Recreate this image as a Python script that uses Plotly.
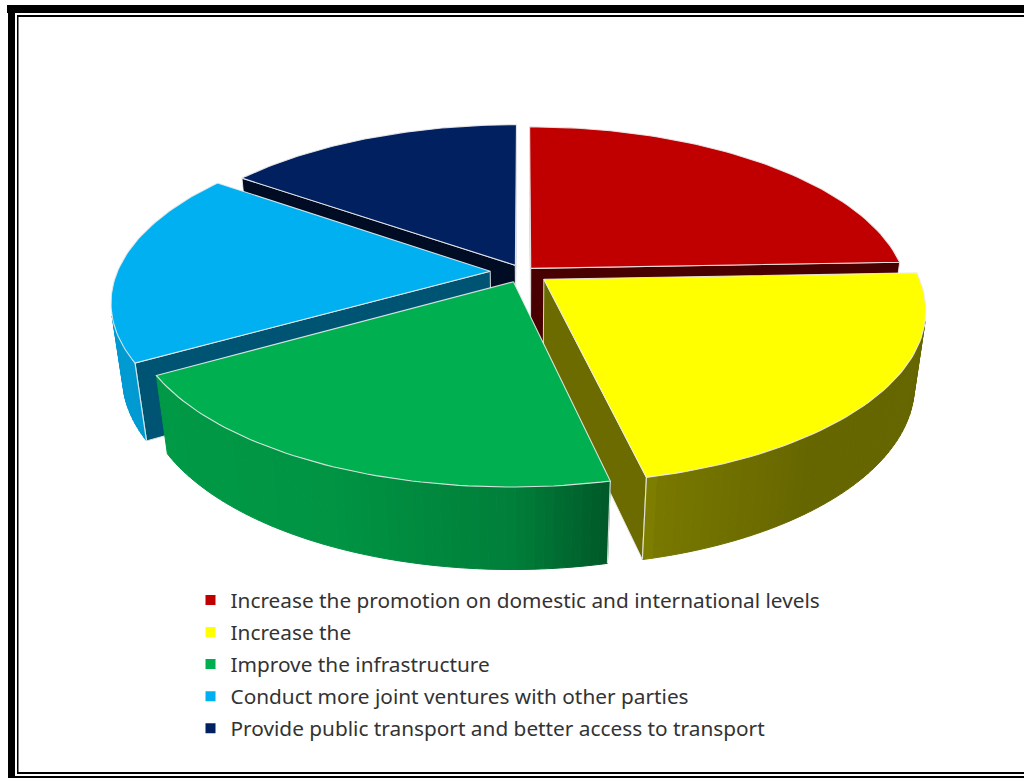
import numpy as np
import plotly.graph_objects as go

# Survey responses, as shares of all answers
categories = [
    "Increase the promotion on domestic and international levels",
    "Increase the",
    "Improve the infrastructure",
    "Conduct more joint ventures with other parties",
    "Provide public transport and better access to transport",
]
shares = [24.4, 22.1, 20.1, 18.3, 15.1]
explosion = [0.03, 0.07, 0.063, 0.088, 0.045]
top_colors = ["#C00000", "#FFFF00", "#00B050", "#00B0F0", "#002060"]
wall_factors = [0.38, 0.42, 0.40, 0.48, 0.38]

# Camera model for the tilted pie
CX, CY = 523.0, 272.0
RADIUS, TILT = 373.0, 0.447
THICKNESS = 76.0
DEPTH_Y, DEPTH_Z = 0.17, 0.028
EDGE = "rgba(235,235,235,0.9)"


def project(x, y, z):
    d = 1.0 + DEPTH_Y * np.asarray(y) + DEPTH_Z * np.asarray(z)
    return CX + RADIUS * np.asarray(x) / d, CY - RADIUS * TILT * np.asarray(y) / d + THICKNESS * np.asarray(z) / d


def shade(hex_color, factor):
    r, g, b = (int(hex_color[i:i + 2], 16) for i in (1, 3, 5))
    return f"rgb({r * factor:.0f},{g * factor:.0f},{b * factor:.0f})"


def signed_area(px, py):
    return 0.5 * np.sum(px * np.roll(py, -1) - np.roll(px, -1) * py)


def polygon(px, py, color, line_color=None, width=1.0):
    return go.Scatter(
        x=np.append(px, px[0]), y=np.append(py, py[0]), mode="lines", fill="toself",
        fillcolor=color, line=dict(color=line_color or color, width=width),
        hoverinfo="skip", showlegend=False,
    )


def rim_factor(x):
    return np.interp(x, [-1.0, -0.4, 0.0, 0.25, 0.6, 1.0], [0.88, 0.84, 0.72, 0.47, 0.40, 0.40])


fractions = np.array(shares) / sum(shares)
ends = np.cumsum(fractions) * 2 * np.pi
starts = ends - fractions * 2 * np.pi

traces = []
# Back-to-front painting order: navy, red, blue, yellow, green
for i in [4, 0, 3, 1, 2]:
    t0, t1 = starts[i], ends[i]
    mid = 0.5 * (t0 + t1)
    ox, oy = explosion[i] * np.sin(mid), explosion[i] * np.cos(mid)
    color = top_colors[i]
    angles = np.linspace(t0, t1, 61)
    wx, wy = ox + np.sin(angles), oy + np.cos(angles)

    # Radial walls, only the ones facing the viewer
    for a, sign in ((t0, -1), (t1, 1)):
        ex, ey = ox + np.sin(a), oy + np.cos(a)
        qx = np.array([ox, ex, ex, ox])
        qy = np.array([oy, ey, ey, oy])
        qz = np.array([0, 0, 1, 1])
        px, py = project(qx, qy, qz)
        if signed_area(px, py) * sign > 0:
            traces.append(polygon(px, py, shade(color, wall_factors[i]), EDGE))

    # Outer rim, as narrow strips shaded across the pie
    for j in range(len(angles) - 1):
        qx = np.array([wx[j], wx[j + 1], wx[j + 1], wx[j]])
        qy = np.array([wy[j], wy[j + 1], wy[j + 1], wy[j]])
        qz = np.array([0, 0, 1, 1])
        px, py = project(qx, qy, qz)
        if signed_area(px, py) < 0:
            strip = shade(color, float(rim_factor(0.5 * (np.sin(angles[j]) + np.sin(angles[j + 1])))))
            traces.append(polygon(px, py, strip))

    # Top face
    px, py = project(np.append(ox, wx), np.append(oy, wy), np.zeros(len(wx) + 1))
    traces.append(polygon(px, py, color, EDGE, 1.1))

    # Light vertical edge where the rim meets a visible radial wall
    edge_angle = {3: t0, 1: t1, 2: t0}.get(i)
    if edge_angle is not None:
        ex, ey = ox + np.sin(edge_angle), oy + np.cos(edge_angle)
        px, py = project([ex, ex], [ey, ey], [0, 1])
        traces.append(go.Scatter(x=px, y=py, mode="lines", line=dict(color=EDGE, width=1.2),
                                 hoverinfo="skip", showlegend=False))

# Legend entries
for name, color in zip(categories, top_colors):
    traces.append(go.Scatter(
        x=[None], y=[None], mode="markers", name=name, legendgroup=name,
        marker=dict(symbol="square", size=10, color=color),
    ))

W, H = 1024, 778
frame = [
    (7, 5, 1024, 13),
    (8, 13, 15, 778),
    (17, 15, 1024, 17),
    (17, 15, 18.5, 774),
    (17, 772, 1024, 774),
    (8, 776, 1024, 778),
]
shapes = [
    dict(type="rect", xref="x", yref="y", x0=a, y0=b, x1=c, y1=d, fillcolor="black", line_width=0, layer="above")
    for a, b, c, d in frame
]

fig = go.Figure(traces)
fig.update_layout(
    width=W, height=H, autosize=False,
    margin=dict(l=0, r=0, t=0, b=0),
    paper_bgcolor="white", plot_bgcolor="white",
    xaxis=dict(range=[0, W], visible=False, fixedrange=True),
    yaxis=dict(range=[H, 0], visible=False, fixedrange=True),
    shapes=shapes,
    showlegend=True,
    legend=dict(
        x=190.5 / W, y=1 - 580 / H, xanchor="left", yanchor="top",
        font=dict(family="Noto Sans", size=20.8, color="#333333"),
        bgcolor="rgba(0,0,0,0)", tracegroupgap=2, itemclick=False, itemdoubleclick=False,
    ),
)
fig.write_html("out.html")
